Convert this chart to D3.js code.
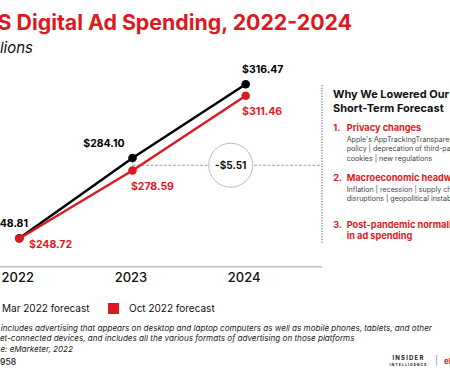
<!DOCTYPE html>
<html>
<head>
<meta charset="utf-8">
<script src="https://cdn.jsdelivr.net/npm/d3@7"></script>
<style>
  body { margin: 0; background: #fff; }
  svg { display: block; font-family: Inter, "DejaVu Sans", sans-serif; }
</style>
</head>
<body>
<div id="chart"></div>
<script>
// ==========================
// Data
// ==========================
const years = ["2022", "2023", "2024"];
const marForecast = [248.81, 284.10, 316.47];
const octForecast = [248.72, 278.59, 311.46];
const gapLabel = "-$5.51";
const seriesNames = ["Mar 2022 forecast", "Oct 2022 forecast"];

const reasons = [
  { num: "1.", head: ["Privacy changes"], body: ["Apple's AppTrackingTransparency", "policy | deprecation of third-party", "cookies | new regulations"] },
  { num: "2.", head: ["Macroeconomic headwinds"], body: ["Inflation | recession | supply chain", "disruptions | geopolitical instability"] },
  { num: "3.", head: ["Post-pandemic normalization", "in ad spending"], body: [] }
];

const notes = [
  "Note: includes advertising that appears on desktop and laptop computers as well as mobile phones, tablets, and other",
  "internet-connected devices, and includes all the various formats of advertising on those platforms",
  "Source: eMarketer, 2022"
];
const chartId = "279958";

// ==========================
// Constants & Dimensions
// ==========================
const width = 450;
const height = 375;
const red = "#dc1a22";

const svg = d3.select("#chart")
  .append("svg")
  .attr("width", width)
  .attr("height", height);

const x = d3.scalePoint()
  .domain(years)
  .range([19.3, 245.7]);

const y = d3.scaleLinear()
  .domain([230, 330])
  .range([281.1, 53.5]);

// ==========================
// Titles
// ==========================
svg.append("text")
  .attr("x", 352).attr("y", 30)
  .attr("text-anchor", "end")
  .attr("font-size", 21.3)
  .attr("font-weight", 700)
  .attr("fill", red)
  .text("US Digital Ad Spending, 2022-2024");

svg.append("text")
  .attr("x", 33).attr("y", 53)
  .attr("text-anchor", "end")
  .attr("font-size", 15)
  .attr("font-style", "italic")
  .attr("fill", "#111")
  .text("billions");

// ==========================
// Axis baseline & year labels
// ==========================
svg.append("line")
  .attr("x1", -30).attr("x2", 322)
  .attr("y1", 266.7).attr("y2", 266.7)
  .attr("stroke", "#bdbdbd")
  .attr("stroke-width", 1.5);

svg.append("g")
  .selectAll("text")
  .data(years)
  .enter().append("text")
  .attr("x", d => x(d) - 1.5)
  .attr("y", 281.7)
  .attr("text-anchor", "middle")
  .attr("font-size", 13)
  .attr("font-weight", 500)
  .attr("fill", "#111")
  .text(d => d);

// ==========================
// Gap bracket
// ==========================
const midY = y((marForecast[1] + octForecast[1]) / 2) + 1;

svg.append("line")
  .attr("x1", x("2023")).attr("x2", x("2023"))
  .attr("y1", y(marForecast[1])).attr("y2", midY)
  .attr("stroke", "#888").attr("stroke-width", 0.8)
  .attr("stroke-dasharray", "2,1.5");

svg.append("line")
  .attr("x1", x("2023")).attr("x2", 322)
  .attr("y1", midY).attr("y2", midY)
  .attr("stroke", "#888").attr("stroke-width", 0.8)
  .attr("stroke-dasharray", "3,1.5");

svg.append("circle")
  .attr("cx", 230.7).attr("cy", midY)
  .attr("r", 22)
  .attr("fill", "#fff")
  .attr("stroke", "#aaa")
  .attr("stroke-width", 0.8);

svg.append("text")
  .attr("x", 230.7).attr("y", midY + 3.5)
  .attr("text-anchor", "middle")
  .attr("font-size", 10)
  .attr("font-weight", 700)
  .attr("fill", "#111")
  .text(gapLabel);

// ==========================
// Lines & points
// ==========================
const line = d3.line()
  .x((d, i) => x(years[i]))
  .y(d => y(d));

const series = [
  { values: marForecast, color: "#000" },
  { values: octForecast, color: red }
];

series.forEach(s => {
  svg.append("path")
    .datum(s.values)
    .attr("d", line)
    .attr("fill", "none")
    .attr("stroke", s.color)
    .attr("stroke-width", 2.5);

  svg.append("g")
    .selectAll("circle")
    .data(s.values)
    .enter().append("circle")
    .attr("cx", (d, i) => x(years[i]))
    .attr("cy", d => y(d))
    .attr("r", 4.3)
    .attr("fill", s.color);
});

// value labels (offsets relative to each point)
const marOffsets = [
  { dx: 8.7, dy: -11.5, anchor: "end" },
  { dx: -8, dy: -11.3, anchor: "end" },
  { dx: -3.7, dy: -11, anchor: "start" }
];
const octOffsets = [
  { dx: 9.7, dy: 9.5, anchor: "start" },
  { dx: -1.6, dy: 19.5, anchor: "start" },
  { dx: -3.7, dy: 19.3, anchor: "start" }
];

function addLabels(values, offsets, color) {
  svg.append("g")
    .selectAll("text")
    .data(values)
    .enter().append("text")
    .attr("x", (d, i) => x(years[i]) + offsets[i].dx)
    .attr("y", (d, i) => y(d) + offsets[i].dy)
    .attr("text-anchor", (d, i) => offsets[i].anchor)
    .attr("font-size", 10.5)
    .attr("font-weight", 700)
    .attr("fill", color)
    .text(d => "$" + d.toFixed(2));
}
addLabels(marForecast, marOffsets, "#000");
addLabels(octForecast, octOffsets, red);

// ==========================
// Right panel
// ==========================
svg.append("line")
  .attr("x1", 322).attr("x2", 322)
  .attr("y1", 85).attr("y2", 243)
  .attr("stroke", "#444").attr("stroke-width", 0.9)
  .attr("stroke-dasharray", "1.2,1.5");

const panel = svg.append("g");
panel.append("text")
  .attr("x", 333).attr("y", 98)
  .attr("font-size", 11).attr("font-weight", 700).attr("fill", "#111")
  .selectAll("tspan")
  .data(["Why We Lowered Our", "Short-Term Forecast"])
  .enter().append("tspan")
  .attr("x", 333)
  .attr("dy", (d, i) => i ? 14 : 0)
  .text(d => d);

const reasonTops = [131, 180.7, 228];
reasons.forEach((r, i) => {
  const top = reasonTops[i];
  panel.append("text")
    .attr("x", 333.3).attr("y", top)
    .attr("font-size", 9.2).attr("font-weight", 700).attr("fill", red)
    .text(r.num);
  r.head.forEach((h, j) => {
    panel.append("text")
      .attr("x", 346.7).attr("y", top + j * 10.7)
      .attr("font-size", 9.2).attr("font-weight", 700).attr("fill", red)
      .text(h);
  });
  r.body.forEach((b, j) => {
    panel.append("text")
      .attr("x", 346.7).attr("y", top + 11 + j * 9.3)
      .attr("font-size", 7.1).attr("fill", "#444")
      .text(b);
  });
});

// ==========================
// Legend
// ==========================
const legend = svg.append("g");
const legendX = [-19, 108];
seriesNames.forEach((name, i) => {
  legend.append("rect")
    .attr("x", legendX[i]).attr("y", 303)
    .attr("width", 11).attr("height", 11)
    .attr("fill", i ? red : "#000");
  legend.append("text")
    .attr("x", legendX[i] + 21).attr("y", 312)
    .attr("font-size", 10).attr("fill", "#111")
    .text(name);
});

// ==========================
// Footer
// ==========================
svg.append("g")
  .selectAll("text")
  .data(notes)
  .enter().append("text")
  .attr("x", -22)
  .attr("y", (d, i) => 330.7 + i * 10.7)
  .attr("font-size", 8.1)
  .attr("font-style", "italic")
  .attr("fill", "#222")
  .text(d => d);

svg.append("text")
  .attr("x", 16).attr("y", 365)
  .attr("text-anchor", "end")
  .attr("font-size", 8.5).attr("font-weight", 500).attr("fill", "#111")
  .text(chartId);

const logo = svg.append("g");
logo.append("text")
  .attr("x", 408.5).attr("y", 360)
  .attr("text-anchor", "middle")
  .attr("font-size", 6).attr("font-weight", 700)
  .attr("letter-spacing", 1.2).attr("fill", "#222")
  .text("INSIDER");
logo.append("text")
  .attr("x", 408.5).attr("y", 366)
  .attr("text-anchor", "middle")
  .attr("font-size", 3.6).attr("font-weight", 700)
  .attr("letter-spacing", 1).attr("fill", "#222")
  .text("INTELLIGENCE");
logo.append("line")
  .attr("x1", 436.7).attr("x2", 436.7)
  .attr("y1", 355).attr("y2", 366)
  .attr("stroke", "#999").attr("stroke-width", 0.8);
logo.append("text")
  .attr("x", 444).attr("y", 364)
  .attr("font-size", 8).attr("font-weight", 700).attr("fill", red)
  .text("eMarketer");
</script>
</body>
</html>
